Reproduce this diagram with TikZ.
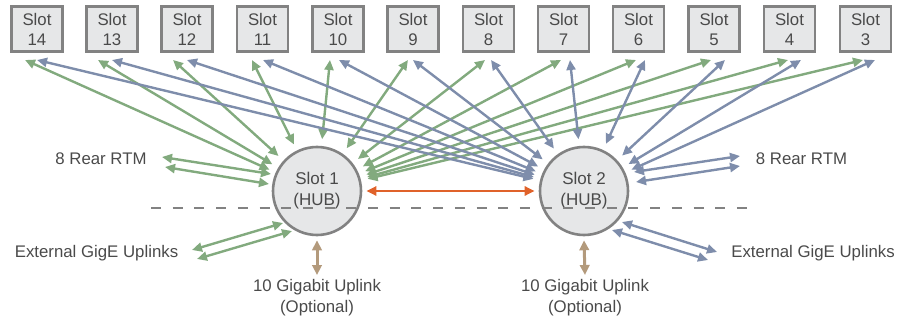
\documentclass[tikz,border=0pt]{standalone}
\usepackage{fontspec}
\setmainfont{Liberation Sans}
\usetikzlibrary{arrows.meta}
\definecolor{cgreen}{HTML}{82AA7E}
\definecolor{cblue}{HTML}{7E8DAB}
\definecolor{corange}{HTML}{E0622A}
\definecolor{ctan}{HTML}{B39A7C}
\definecolor{cborder}{HTML}{828282}
\definecolor{cfill}{HTML}{E6E7E8}
\definecolor{ctext}{HTML}{4A4A4A}
\tikzset{
  slotbox/.style={draw=cborder, fill=cfill, line width=2.8pt, minimum width=51pt, minimum height=45pt, inner sep=0pt, align=center, text=ctext, font=\fontsize{16.8}{20}\selectfont},
  hubnode/.style={circle, draw=cborder, fill=cfill, line width=2.6pt, minimum size=88pt, inner sep=0pt, align=center, text=ctext, font=\fontsize{17}{21}\selectfont},
  hubzone/.style={circle, minimum size=104pt, inner sep=0pt, outer sep=0pt},
  lbl/.style={text=ctext, font=\fontsize{16.8}{21}\selectfont, align=center, inner sep=0pt},
  garrow/.style={draw=cgreen, line width=2.4pt, {Triangle[length=10pt,width=9pt]}-{Triangle[length=10pt,width=9pt]}},
  barrow/.style={draw=cblue, line width=2.4pt, {Triangle[length=10pt,width=9pt]}-{Triangle[length=10pt,width=9pt]}},
  oarrow/.style={draw=corange, line width=2.6pt, {Triangle[length=10pt,width=9pt]}-{Triangle[length=10pt,width=9pt]}},
  tarrow/.style={draw=ctan, line width=3pt, {Triangle[length=10pt,width=9.5pt]}-{Triangle[length=10pt,width=9.5pt]}},
  sepline/.style={draw=cborder, line width=2.6pt, dash pattern=on 10pt off 11.7pt}
}
\begin{document}
\begin{tikzpicture}[x=1pt,y=-1pt]
\useasboundingbox (0,0) rectangle (898,321);
% slots
\foreach \n/\x/\gx/\bx in {14/37/25/37, 13/112/98/112, 12/187/173/187, 11/262.5/252/263, 10/338/330/339, 9/413/408/413, 8/488.5/485/491, 7/563.5/561/570, 6/638.5/636/645, 5/714/711/725, 4/789.5/788/801, 3/865.5/863/875}{
  \node[slotbox] (s\n) at (\x,29) {Slot\\\n};
  \coordinate (g\n) at (\gx,60);
  \coordinate (b\n) at (\bx,60);
}
% hubs
\node[hubnode] (h1) at (317,191) {Slot 1\\(HUB)};
\node[hubnode] (h2) at (584,191) {Slot 2\\(HUB)};
\node[hubzone] (h1z) at (317,191) {};
\node[hubzone] (h2z) at (584,191) {};
% slot connectors
\foreach \n in {3,...,14}{
  \draw[garrow] (h1z) -- (g\n);
  \draw[barrow] (h2z) -- (b\n);
}
% labels
\node[lbl] (rtml) at (101,159) {8 Rear RTM};
\node[lbl] (rtmr) at (801.5,159) {8 Rear RTM};
\node[lbl] (extl) at (96.5,253) {External GigE Uplinks};
\node[lbl] (extr) at (813,253) {External GigE Uplinks};
\node[lbl] (up1) at (317,298) {10 Gigabit Uplink\\(Optional)};
\node[lbl] (up2) at (585,298) {10 Gigabit Uplink\\(Optional)};
% rear RTM connectors
\coordinate (r1a) at (162,157); \coordinate (r1b) at (271,174);
\coordinate (r2a) at (165,167); \coordinate (r2b) at (269,184);
\coordinate (r3a) at (634,172); \coordinate (r3b) at (740,156);
\coordinate (r4a) at (636,182); \coordinate (r4b) at (740,166);
\draw[garrow] (r1a) -- (r1b);
\draw[garrow] (r2a) -- (r2b);
\draw[barrow] (r3a) -- (r3b);
\draw[barrow] (r4a) -- (r4b);
% external uplinks
\coordinate (e1a) at (192,250); \coordinate (e1b) at (283,223);
\coordinate (e2a) at (197,259); \coordinate (e2b) at (292,231);
\coordinate (e3a) at (622,222); \coordinate (e3b) at (717,252);
\coordinate (e4a) at (612,230); \coordinate (e4b) at (708,260);
\draw[garrow] (e1a) -- (e1b);
\draw[garrow] (e2a) -- (e2b);
\draw[barrow] (e3a) -- (e3b);
\draw[barrow] (e4a) -- (e4b);
% hub link
\draw[oarrow] ([xshift=4pt]h1.east) -- ([xshift=-4pt]h2.west);
% 10G uplinks
\coordinate (t1) at (317,275);
\coordinate (t2) at (585,275);
\draw[tarrow] ([yshift=-4pt]h1.south) -- (t1);
\draw[tarrow] ([yshift=-4pt]h2.south) -- (t2);
% separator
\coordinate (d1) at (151,208);
\coordinate (d2) at (756,208);
\draw[sepline] (d1) -- (d2);
\end{tikzpicture}
\end{document}
